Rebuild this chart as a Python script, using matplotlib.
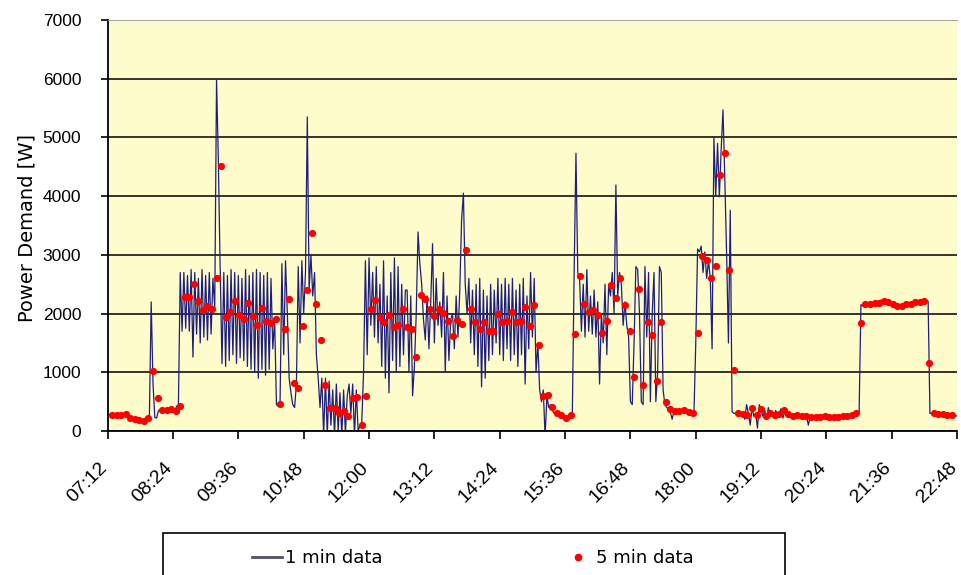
import matplotlib.pyplot as plt
from matplotlib.lines import Line2D
from matplotlib.patches import Rectangle

plt.rcParams['font.family'] = ['Liberation Sans', 'DejaVu Sans']

# 1 min data, every 2 minutes starting at 07:12
line_start = 7 * 60 + 12
line_step = 2
line_w = [
    290, 280, 270, 275, 280, 270, 285, 290, 280, 260, 240, 230, 220, 215, 210,
    200, 200, 190, 180, 170, 160, 200, 230, 250, 2200, 800, 230, 220, 350, 360,
    360, 370, 380, 370, 360, 330, 340, 350, 420, 450, 2700, 1700, 2700, 1750, 2650,
    1700, 2750, 1260, 2700, 1650, 2600, 1500, 2750, 1600, 2650, 1550, 2700, 1650, 2600, 2100,
    5980, 4600, 2750, 1150, 2700, 1100, 2650, 1200, 2750, 1300, 2700, 1150, 2650, 1250, 2600,
    1200, 2750, 1100, 2650, 1050, 2700, 1000, 2750, 900, 2700, 1050, 2650, 950, 2700, 1050,
    2600, 1400, 1900, 450, 420, 500, 2850, 1300, 2900, 2000, 900, 650, 450, 400, 800,
    2800, 1500, 2900, 2000, 2700, 5350, 2400, 3000, 2300, 2700, 1300, 900, 400, 900, -80,
    900, -80, 850, 100, 700, -80, 800, 0, 650, -80, 700, -50, 600, 800, 300,
    800, -80, 700, 0, 100, 150, 1000, 2900, 1300, 2950, 1800, 2700, 1600, 2800, 1500,
    2500, 1100, 2900, 900, 2300, 650, 2700, 1200, 2950, 1000, 2800, 1100, 2500, 1300, 2400,
    2400, 1000, 2300, 600, 1100, 2000, 3390, 2850, 2500, 1900, 1550, 2300, 1400, 2200, 3190,
    1500, 2600, 1800, 2200, 1600, 2700, 1000, 2300, 1200, 1900, 2000, 1400, 2300, 1600, 2400,
    3600, 4050, 2500, 2000, 2600, 1500, 2400, 1300, 2500, 1100, 2600, 750, 2400, 900, 2300,
    1200, 2500, 1300, 2400, 1500, 2600, 1300, 2500, 1200, 2600, 1400, 2500, 1200, 2600, 1300,
    2400, 1100, 2500, 1300, 2600, 800, 2300, 1400, 2700, 1600, 2600, 1000, 1500, 700, 500,
    700, -100, 600, 400, 450, 350, 300, 320, 280, 260, 250, 220, 230, 250, 240, 270,
    280, 2700, 4730, 2700, 2600, 1700, 2500, 1600, 2750, 1700, 2300, 1650, 2400, 1600, 2200,
    800, 2000, 1500, 2500, 1300, 2500, 2300, 2700, 2000, 4190, 2300, 2700, 2500, 1800, 2200,
    1800, 1600, 500, 450, 1500, 2800, 2750, 2000, 500, 450, 2800, 1600, 2700, 500, 2000,
    2700, 500, 1000, 2800, 2700, 700, 450, 400, 380, 320, 200, 350, 330, 340, 330,
    320, 340, 330, 310, 320, 300, 280, 300, 1500, 3100, 3050, 3150, 2700, 3050, 2600,
    2900, 2600, 1400, 5000, 4000, 4900, 3990, 4800, 5470, 4300, 3000, 1500, 3760, 330, 300,
    300, 290, 320, 250, 280, 200, 450, 300, 100, 400, 250, 300, 50, 450, 350,
    250, 350, 200, 400, 260, 300, 220, 350, 280, 300, 380, 220, 330, 260, 300,
    230, 270, 250, 240, 280, 250, 220, 260, 250, 260, 100, 240, 250, 245, 250, 240,
    245, 240, 250, 240, 235, 245, 240, 230, 235, 245, 240, 250, 245, 250, 245,
    240, 250, 245, 250, 260, 270, 290, 330, 2150, 2130, 2150, 2160, 2150, 2170, 2180,
    2170, 2190, 2180, 2200, 2230, 2210, 2200, 2220, 2190, 2170, 2150, 2130, 2120, 2130, 2140,
    2130, 2140, 2150, 2160, 2165, 2170, 2180, 2185, 2190, 2195, 2200, 2205, 2210, 2215, 2220,
    2210, 300, 300, 290, 280, 285, 280, 275, 270, 280, 275, 270, 265, 260, 265,
    260, 255, 260,
]

# 5 min data, one dot every 5 minutes starting at 07:17
dots_start = 7 * 60 + 17
dots_step = 5
dots_w = [
    270, 270, 280, 285, 230, 210, 195, 170, 230, 1030, 570, 350, 365, 380, 340,
    420, 2285, 2285, 2510, 2215, 2055, 2125, 2070, 2600, 4520, 1940, 2030, 2215, 1970, 1915,
    2180, 1960, 1800, 2100, 1870, 1840, 1900, 455, 1745, 2255, 820, 740, 1795, 2400, 3375,
    2170, 1557, 780, 400, 400, 305, 335, 250, 570, 580, 100, 600, 2070, 2230, 1945,
    1860, 1970, 1775, 1800, 2075, 1775, 1730, 1260, 2310, 2240, 2085, 1955, 2075, 2010, 1875,
    1615, 1885, 1830, 3090, 2070, 1860, 1730, 1860, 1705, 1705, 1985, 1860, 1875, 2030, 1850,
    1875, 2115, 1790, 2140, 1470, 590, 610, 410, 305, 265, 230, 265, 1650, 2640, 2160,
    2030, 2055, 1970, 1670, 1875, 2480, 2270, 2610, 2140, 1705, 920, 2415, 790, 1860, 1630,
    850, 1860, 495, 380, 335, 335, 350, 325, 310, 1670, 2985, 2910, 2600, 2805, 4360,
    4730, 2740, 1035, 305, 295, 265, 400, 265, 380, 250, 305, 265, 295, 350, 285,
    250, 265, 260, 250, 245, 240, 245, 250, 240, 235, 245, 250, 255, 270, 305,
    1840, 2155, 2170, 2180, 2180, 2215, 2200, 2160, 2125, 2135, 2160, 2170, 2190, 2200, 2215,
    1165, 305, 295, 285, 280, 265,
]

tick_labels = ['07:12', '08:24', '09:36', '10:48', '12:00', '13:12', '14:24',
               '15:36', '16:48', '18:00', '19:12', '20:24', '21:36', '22:48']
y_ticks = [0, 1000, 2000, 3000, 4000, 5000, 6000, 7000]

line_t = [line_start + line_step * i for i in range(len(line_w))]
dots_t = [dots_start + dots_step * i for i in range(len(dots_w))]
tick_pos = [int(s[:2]) * 60 + int(s[3:]) for s in tick_labels]

fig = plt.figure(figsize=(9.61, 5.75), dpi=100)
ax = fig.add_axes([0.112, 0.2504, 0.884, 0.7148])
ax.set_facecolor('#FFFCCC')

ax.plot(line_t, line_w, color='#1E1E7E', lw=0.9, zorder=2)
ax.plot(dots_t, dots_w, 'o', color='#FF0000', ms=5.2, mec='none', zorder=3)

ax.set_xlim(tick_pos[0], tick_pos[-1])
ax.set_ylim(0, 7000)
ax.set_yticks(y_ticks)
ax.set_xticks(tick_pos)
# Excel style: the baseline end of each rotated label sits under its tick
ax.set_xticklabels(tick_labels, rotation=45, ha='right', va='baseline',
                   rotation_mode='anchor', fontsize=14)

ax.yaxis.grid(True, color='black', lw=1.1)
ax.set_axisbelow(True)
ax.spines['right'].set_visible(False)
ax.spines['top'].set_color('#A8A8A8')
ax.spines['left'].set_linewidth(1.3)
ax.spines['bottom'].set_linewidth(1.3)
ax.tick_params(axis='y', direction='out', length=5, width=1.2, labelsize=12.5, pad=14)
ax.tick_params(axis='x', direction='out', length=6, width=1.2, pad=21)
ax.set_ylabel('Power Demand [W]', fontsize=14, family=['DejaVu Sans'])
ax.yaxis.set_label_coords(-0.084, 0.494)

# legend box, cut by the bottom edge as in the original
fig.patches.append(Rectangle((0.1696, -0.05), 0.6472, 0.123, transform=fig.transFigure,
                             facecolor='white', edgecolor='black', lw=1.2))
handles = [Line2D([], [], color='#50506A', lw=2),
           Line2D([], [], ls='none', marker='o', color='#FF0000', ms=5.5, mec='none')]
fig.legend(handles, ['1 min data', '5 min data'], loc='center',
           bbox_to_anchor=(0.4917, 0.0296), ncol=2, frameon=False,
           prop={'family': ['DejaVu Sans'], 'size': 13},
           handlelength=1.67, handletextpad=0.15, columnspacing=10)

fig.savefig('out.png', dpi=100)
